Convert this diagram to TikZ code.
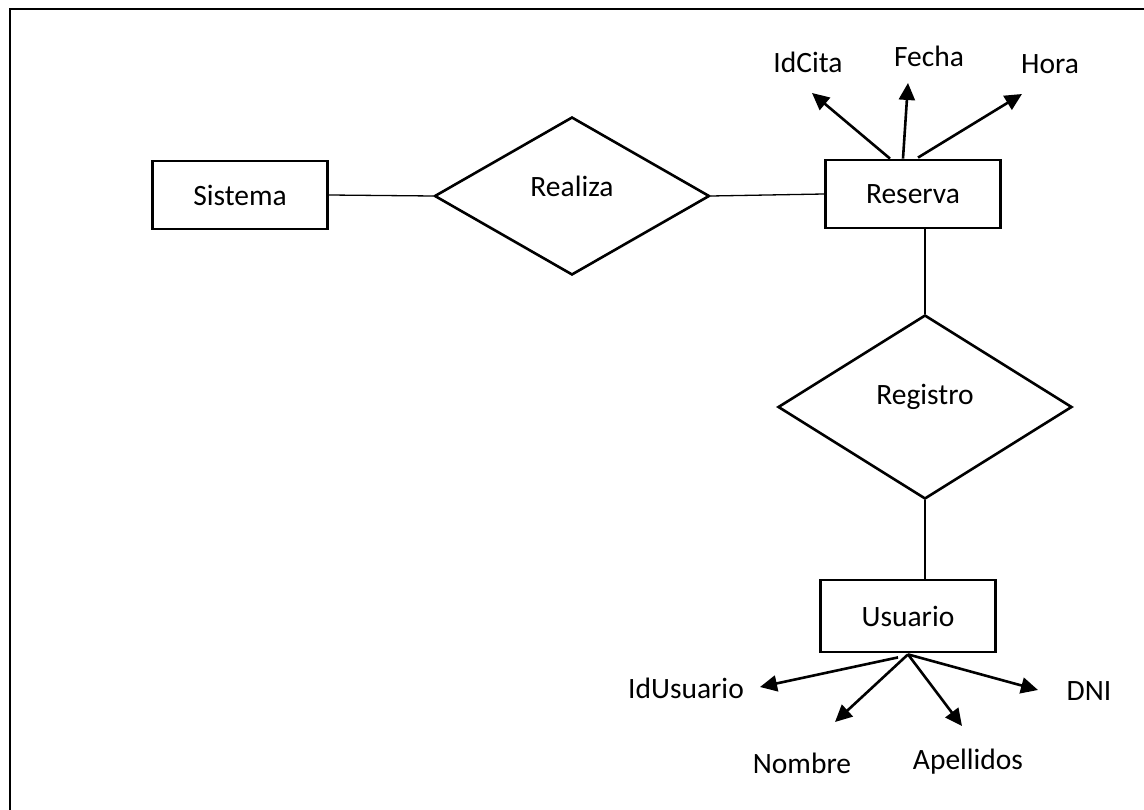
\documentclass[tikz,border=0pt]{standalone}
\usepackage{fontspec}
\setmainfont{Carlito}
\usetikzlibrary{shapes.geometric,arrows.meta,calc}
\begin{document}
\begin{tikzpicture}[x=1pt,y=-1pt,
  every node/.style={font=\fontsize{29.5}{31}\selectfont},
  entity/.style={draw,line width=2.8pt,rectangle,minimum width=175pt,minimum height=68pt,inner sep=0pt},
  relation/.style={draw,line width=2.6pt,diamond,inner sep=0pt},
  link/.style={line width=1.3pt},
  attr/.style={line width=2.6pt,-{Triangle[length=17pt,width=16pt]}},
  attrname/.style={inner sep=0pt}
]
\useasboundingbox (0,0) rectangle (1144,810);
% page frame
\draw[line width=2.6pt] (10,830) -- (10,9) -- (1160,9);

% entities and relationships
\node[entity, minimum width=175pt] (sistema) at (240,195) {Sistema};
\node[relation, minimum width=275pt, minimum height=158pt] (realiza) at (572,196) {};
\node[attrname] (realizaT) at (572,186) {Realiza};
\node[entity] (reserva) at (913,194) {Reserva};
\node[relation, minimum width=294pt, minimum height=184pt] (registro) at (925,407) {};
\node[attrname] (registroT) at (925,397) {Registro};
\node[entity, minimum height=72pt] (usuario) at (908,616) {Usuario};

% relationship links
\draw[link] (sistema.east) -- (realiza.west);
\draw[link] (realiza.east) -- (reserva.west);
\draw[link] (reserva.south -| registro.north) -- (registro.north);
\draw[link] (registro.south) -- (registro.south |- usuario.north);

% attributes of Reserva
\node[attrname] (idcita) at (808,62) {IdCita};
\node[attrname] (fecha) at (929,56) {Fecha};
\node[attrname] (hora) at (1050,64) {Hora};
\coordinate (tIdCita) at (812,93);
\coordinate (tFecha) at (908,83);
\coordinate (tHora) at (1022,94);
\draw[attr] ([xshift=-23pt]reserva.north) -- (tIdCita);
\draw[attr] ([xshift=-10pt]reserva.north) -- (tFecha);
\draw[attr] ([xshift=5pt,yshift=1pt]reserva.north) -- (tHora);

% attributes of Usuario
\node[attrname] (idusuario) at (686,688) {IdUsuario};
\node[attrname] (nombre) at (802,763) {Nombre};
\node[attrname] (apellidos) at (968,762) {Apellidos};
\node[attrname] (dni) at (1089,691) {DNI};
\coordinate (tIdUsuario) at (760,687);
\coordinate (tNombre) at (835,722);
\coordinate (tApellidos) at (962,726);
\coordinate (tDNI) at (1038,690);
\draw[attr] ([xshift=-10pt,yshift=-4pt]usuario.south) -- (tIdUsuario);
\draw[attr] ([yshift=-1pt]usuario.south) -- (tNombre);
\draw[attr] ([yshift=-1pt]usuario.south) -- (tApellidos);
\draw[attr] ([yshift=-1pt]usuario.south) -- (tDNI);
\end{tikzpicture}
\end{document}
